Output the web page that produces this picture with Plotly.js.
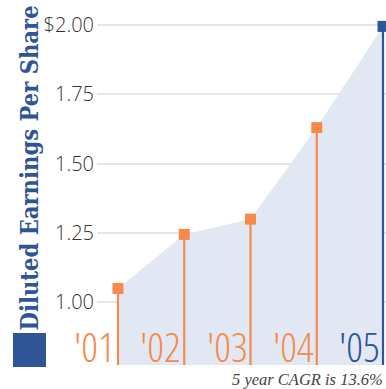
<!DOCTYPE html>
<html><head>
<meta charset="utf-8">
<script src="https://cdn.plot.ly/plotly-3.0.1.min.js"></script>
<style>
body{margin:0;padding:0;background:#fff}
#chart .annotation-text{font-stretch:condensed}
</style>
</head><body>
<div id="chart" style="width:386px;height:389px"></div>
<script>
// Data
const years = ["'01", "'02", "'03", "'04", "'05"];
const xPos = [1, 2, 3, 4, 5];
const eps = [1.05, 1.245, 1.30, 1.63, 1.995];
const pointColors = ['#F58A4B', '#F58A4B', '#F58A4B', '#F58A4B', '#2F5597'];
const tickVals = [1.00, 1.25, 1.50, 1.75, 2.00];
const tickText = ['1.00', '1.25', '1.50', '1.75', '$2.00'];
const yTitle = 'Diluted Earnings Per Share';
const note = '5 year CAGR is 13.6%';

const yMin = 0.774, yMax = 2.018;

const area = {
  x: xPos, y: eps, type: 'scatter', mode: 'lines',
  fill: 'tozeroy', fillcolor: '#E1E8F4', line: {width: 0, color: '#E1E8F4'},
  hoverinfo: 'skip', showlegend: false
};

function stemTrace(idx, color) {
  const xs = idx.map(i => xPos[i]);
  const ys = idx.map(i => eps[i]);
  return {
    x: xs, y: ys, type: 'scatter', mode: 'markers',
    marker: {symbol: 'square', size: 11, color: color, line: {width: 0}},
    error_y: {type: 'data', symmetric: false, array: ys.map(() => 0),
      arrayminus: ys.map(v => v - yMin), color: color, thickness: 2.2, width: 0},
    cliponaxis: false, showlegend: false, hoverinfo: 'skip'
  };
}
const orange = stemTrace([0, 1, 2, 3], pointColors[0]);
const blue = stemTrace([4], pointColors[4]);

const annotations = years.map((t, i) => ({
  x: xPos[i], y: 0, xref: 'x', yref: 'paper', xanchor: 'right', yanchor: 'bottom',
  xshift: 6, yshift: -11, text: t, showarrow: false,
  font: {family: 'Open Sans', weight: 300, size: 41, color: pointColors[i]}
}));
annotations.push({
  x: -0.232, y: 0.572, xref: 'paper', yref: 'paper', xanchor: 'center', yanchor: 'middle',
  text: yTitle, textangle: -90, showarrow: false,
  font: {family: 'DejaVu Serif', weight: 700, size: 23.5, color: '#2F5597'}
});
annotations.push({
  x: 1, y: 0, xref: 'paper', yref: 'paper', xanchor: 'right', yanchor: 'top',
  xshift: -1, yshift: -3, text: '<i>' + note + '</i>', showarrow: false,
  font: {family: 'Liberation Serif', size: 16.5, color: '#444444'}
});

const layout = {
  width: 386, height: 389,
  margin: {l: 97, r: 0, t: 20, b: 24, pad: 0},
  paper_bgcolor: '#ffffff', plot_bgcolor: '#ffffff',
  showlegend: false,
  xaxis: {range: [0.683, 5.045], showgrid: false, zeroline: false, showticklabels: false, ticks: '', showline: false, fixedrange: true},
  yaxis: {range: [yMin, yMax], tickvals: tickVals, ticktext: tickText, showgrid: true, gridcolor: '#E6E6E6', gridwidth: 2,
    zeroline: false, ticks: '', showline: false, ticklabelstandoff: 2,
    tickfont: {family: 'Open Sans', weight: 300, size: 20, color: '#333333'}, fixedrange: true},
  shapes: [{type: 'rect', xref: 'paper', yref: 'paper', x0: -0.2907, x1: -0.1765, y0: -0.0058, y1: 0.0928,
    fillcolor: '#2F5597', line: {width: 0}}],
  annotations: annotations
};

Plotly.newPlot('chart', [area, orange, blue], layout, {displayModeBar: false, staticPlot: true});
</script>
</body></html>
